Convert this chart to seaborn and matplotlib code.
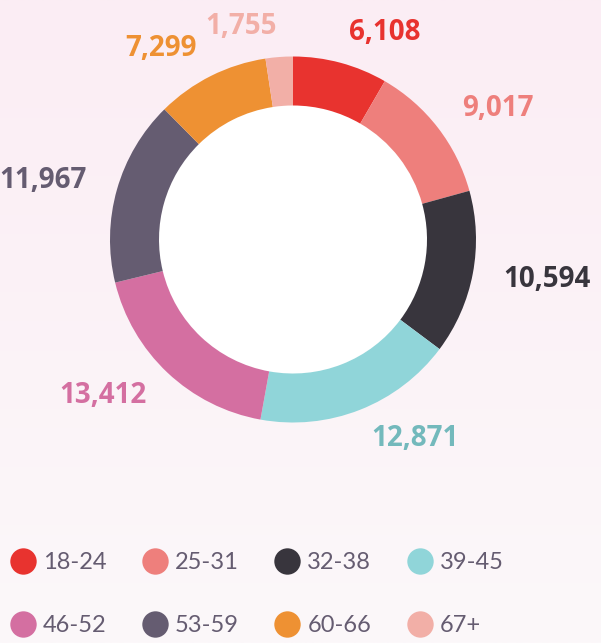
import numpy as np
import matplotlib
matplotlib.use('Agg')
import matplotlib.pyplot as plt
from matplotlib.lines import Line2D
import seaborn as sns

# data
groups = ['18-24', '25-31', '32-38', '39-45', '46-52', '53-59', '60-66', '67+']
counts = [6108, 9017, 10594, 12871, 13412, 11967, 7299, 1755]
colors = ['#e8332f', '#ee7f7c', '#38353d', '#90d5d9', '#d46fa1', '#655c71', '#ee9133', '#f2afa7']
label_colors = ['#e8332f', '#ee7f7c', '#38353d', '#73b9bc', '#d46fa1', '#655c71', '#ee9133', '#f2afa7']

sns.set_theme(style='white')
plt.rcParams['font.family'] = ['Lato', 'DejaVu Sans']

W, H = 601, 643
fig = plt.figure(figsize=(W / 100, H / 100), dpi=100)

# soft pink background gradient
bg = fig.add_axes([0, 0, 1, 1])
grad = np.linspace(0, 1, 256).reshape(-1, 1)
cmap = matplotlib.colors.LinearSegmentedColormap.from_list('bg', ['#fbedf4', '#fcf8fa'])
bg.imshow(grad, aspect='auto', cmap=cmap, extent=[0, 1, 0, 1])
bg.set_axis_off()

# donut, axes in pixel units
ax = fig.add_axes([0, 0, 1, 1])
cx, cy, R = 293, H - 239.5, 183
wedges, _ = ax.pie(counts, colors=colors, startangle=90, counterclock=False,
                   center=(cx, cy), radius=R, frame=True,
                   wedgeprops=dict(width=49, linewidth=0))
ax.set_xlim(0, W)
ax.set_ylim(0, H)
ax.set_axis_off()
ax.add_patch(plt.Circle((cx, cy), R - 49, color='white', zorder=0))

total = sum(counts)
cum = np.cumsum([0] + counts)
for i, v in enumerate(counts):
    mid = (cum[i] + cum[i + 1]) / 2 / total * 2 * np.pi
    r = R * 1.17
    x = cx + r * np.sin(mid)
    y = cy + r * np.cos(mid)
    ha = 'left' if np.sin(mid) >= 0 else 'right'
    ax.text(x, y, f'{v:,}', ha=ha, va='center', fontsize=20,
            fontweight='bold', color=label_colors[i],
            family=['Open Sans', 'DejaVu Sans'])

# legend, row-wise order
handles = [Line2D([], [], marker='o', linestyle='', markersize=19,
                  markerfacecolor=c, markeredgewidth=0) for c in colors]
order = [0, 4, 1, 5, 2, 6, 3, 7]
leg = fig.legend([handles[i] for i in order], [groups[i] for i in order],
                 ncol=4, loc='center', bbox_to_anchor=(0.428, 0.076),
                 frameon=False, fontsize=17, handletextpad=0.35,
                 columnspacing=1.55, labelspacing=1.75, handlelength=1.0)
for t in leg.get_texts():
    t.set_color('#655c71')

fig.savefig('out.png', dpi=100)
